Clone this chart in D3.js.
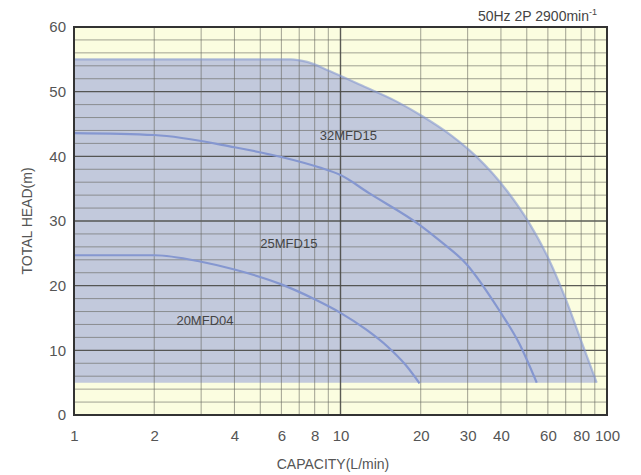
<!DOCTYPE html>
<html><head><meta charset="utf-8">
<script src="https://cdn.jsdelivr.net/npm/d3@7"></script>
<style>body{margin:0;background:#fff}svg text{font-family:"Liberation Sans",Arial,sans-serif}</style>
</head><body>
<svg id="c" width="641" height="475"></svg>
<script>
// Data
const xTickValues = [1,2,4,6,8,10,20,30,40,60,80,100];
const xGridValues = [1,2,3,4,5,6,7,8,9,10,20,30,40,50,60,70,80,90,100];
const yTickValues = [0,10,20,30,40,50,60];
const seriesNames = ["32MFD15","25MFD15","20MFD04"];
const q32 = [1, 4, 6.5, 7.5, 9.1, 12.1, 16.2, 20.3, 26.3, 32.3, 41.9, 51.0, 60.6, 70.2, 80.6, 91.5];
const h32 = [55, 55, 55, 54.6, 53.2, 50.9, 48.5, 46.2, 43.1, 40.0, 34.8, 29.7, 24.0, 17.8, 11.1, 5.0];
const q25 = [1, 2, 4, 6, 8.3, 10, 12.8, 19.8, 23.5, 29.6, 39.4, 46.8, 54.5];
const h25 = [43.6, 43.3, 41.4, 39.9, 38.3, 37.1, 34.3, 29.4, 27.0, 23.4, 16.2, 11.1, 5.0];
const q20 = [1, 2, 3, 4, 6, 8, 10, 12.5, 15, 17.5, 19.8];
const h20 = [24.7, 24.7, 23.7, 22.5, 20.2, 17.9, 15.8, 13.2, 10.6, 7.8, 4.9];
const labelPos = [[10.7,43.0],[6.4,26.4],[3.1,14.4]];
const minHead = 5;

const svg = d3.select("#c");
const L=74, R=607, T=27, B=415;
const x = d3.scaleLog().domain([1,100]).range([L,R]);
const y = d3.scaleLinear().domain([0,60]).range([B,T]);

svg.append("rect").attr("x",L).attr("y",T).attr("width",R-L).attr("height",B-T).attr("fill","#fbfde0");

// shaded region
const area = d3.area().x(d=>x(d[0])).y0(y(minHead)).y1(d=>y(d[1])).curve(d3.curveMonotoneX);
svg.append("path").datum(q32.map((q,i)=>[q,h32[i]])).attr("d",area).attr("fill","#c2c9dc");

// grid
const grid = svg.append("g");
d3.range(0,61,2).forEach(v=>{
  grid.append("line").attr("x1",L).attr("x2",R).attr("y1",y(v)).attr("y2",y(v))
    .attr("stroke", v%10===0 ? "#4a4a46" : "#66665e").attr("stroke-width", v%10===0?1.4:1).attr("opacity", v%10===0?0.9:0.6);
});
xGridValues.forEach(v=>{
  const major = (v===1||v===10||v===100);
  grid.append("line").attr("x1",x(v)).attr("x2",x(v)).attr("y1",T).attr("y2",B)
    .attr("stroke", major?"#4a4a46":"#66665e").attr("stroke-width", major?1.4:1).attr("opacity", major?0.9:0.6);
});

// curves
const line = d3.line().x(d=>x(d[0])).y(d=>y(d[1])).curve(d3.curveMonotoneX);
[[q32,h32],[q25,h25],[q20,h20]].forEach(([qs,hs],k)=>{
  svg.append("path").datum(qs.map((q,i)=>[q,hs[i]])).attr("d",line)
    .attr("fill","none").attr("stroke","#8597d0").attr("stroke-width",2.2).attr("opacity", k===0?0.6:1);
});

// frame
svg.append("rect").attr("x",L).attr("y",T).attr("width",R-L).attr("height",B-T)
  .attr("fill","none").attr("stroke","#333").attr("stroke-width",2);

// axes
const xAxis = d3.axisBottom(x).tickValues(xTickValues).tickFormat(d3.format("d")).tickSize(0).tickPadding(15);
svg.append("g").attr("transform",`translate(0,${B})`).call(xAxis)
  .call(g=>g.select(".domain").remove())
  .selectAll("text").attr("font-size",15).attr("fill","#555");
const yAxis = d3.axisLeft(y).tickValues(yTickValues).tickSize(0).tickPadding(8);
svg.append("g").attr("transform",`translate(${L},0)`).call(yAxis)
  .call(g=>g.select(".domain").remove())
  .selectAll("text").attr("font-size",15).attr("fill","#555");

// series labels
seriesNames.forEach((n,i)=>{
  svg.append("text").attr("x",x(labelPos[i][0])).attr("y",y(labelPos[i][1]))
    .attr("text-anchor","middle").attr("dominant-baseline","middle")
    .attr("font-size",13).attr("fill","#444").text(n);
});

// titles
svg.append("text").attr("x",333).attr("y",469).attr("text-anchor","middle")
  .attr("font-size",14).attr("fill","#555").text("CAPACITY(L/min)");
svg.append("text").attr("transform",`translate(32,${(T+B)/2}) rotate(-90)`).attr("text-anchor","middle")
  .attr("font-size",14).attr("fill","#555").text("TOTAL HEAD(m)");
const t = svg.append("text").attr("x",597).attr("y",21).attr("text-anchor","end")
  .attr("font-size",14).attr("fill","#444");
t.append("tspan").text("50Hz 2P 2900min");
t.append("tspan").attr("dy",-6).attr("font-size",9).text("-1");
</script>
</body></html>
